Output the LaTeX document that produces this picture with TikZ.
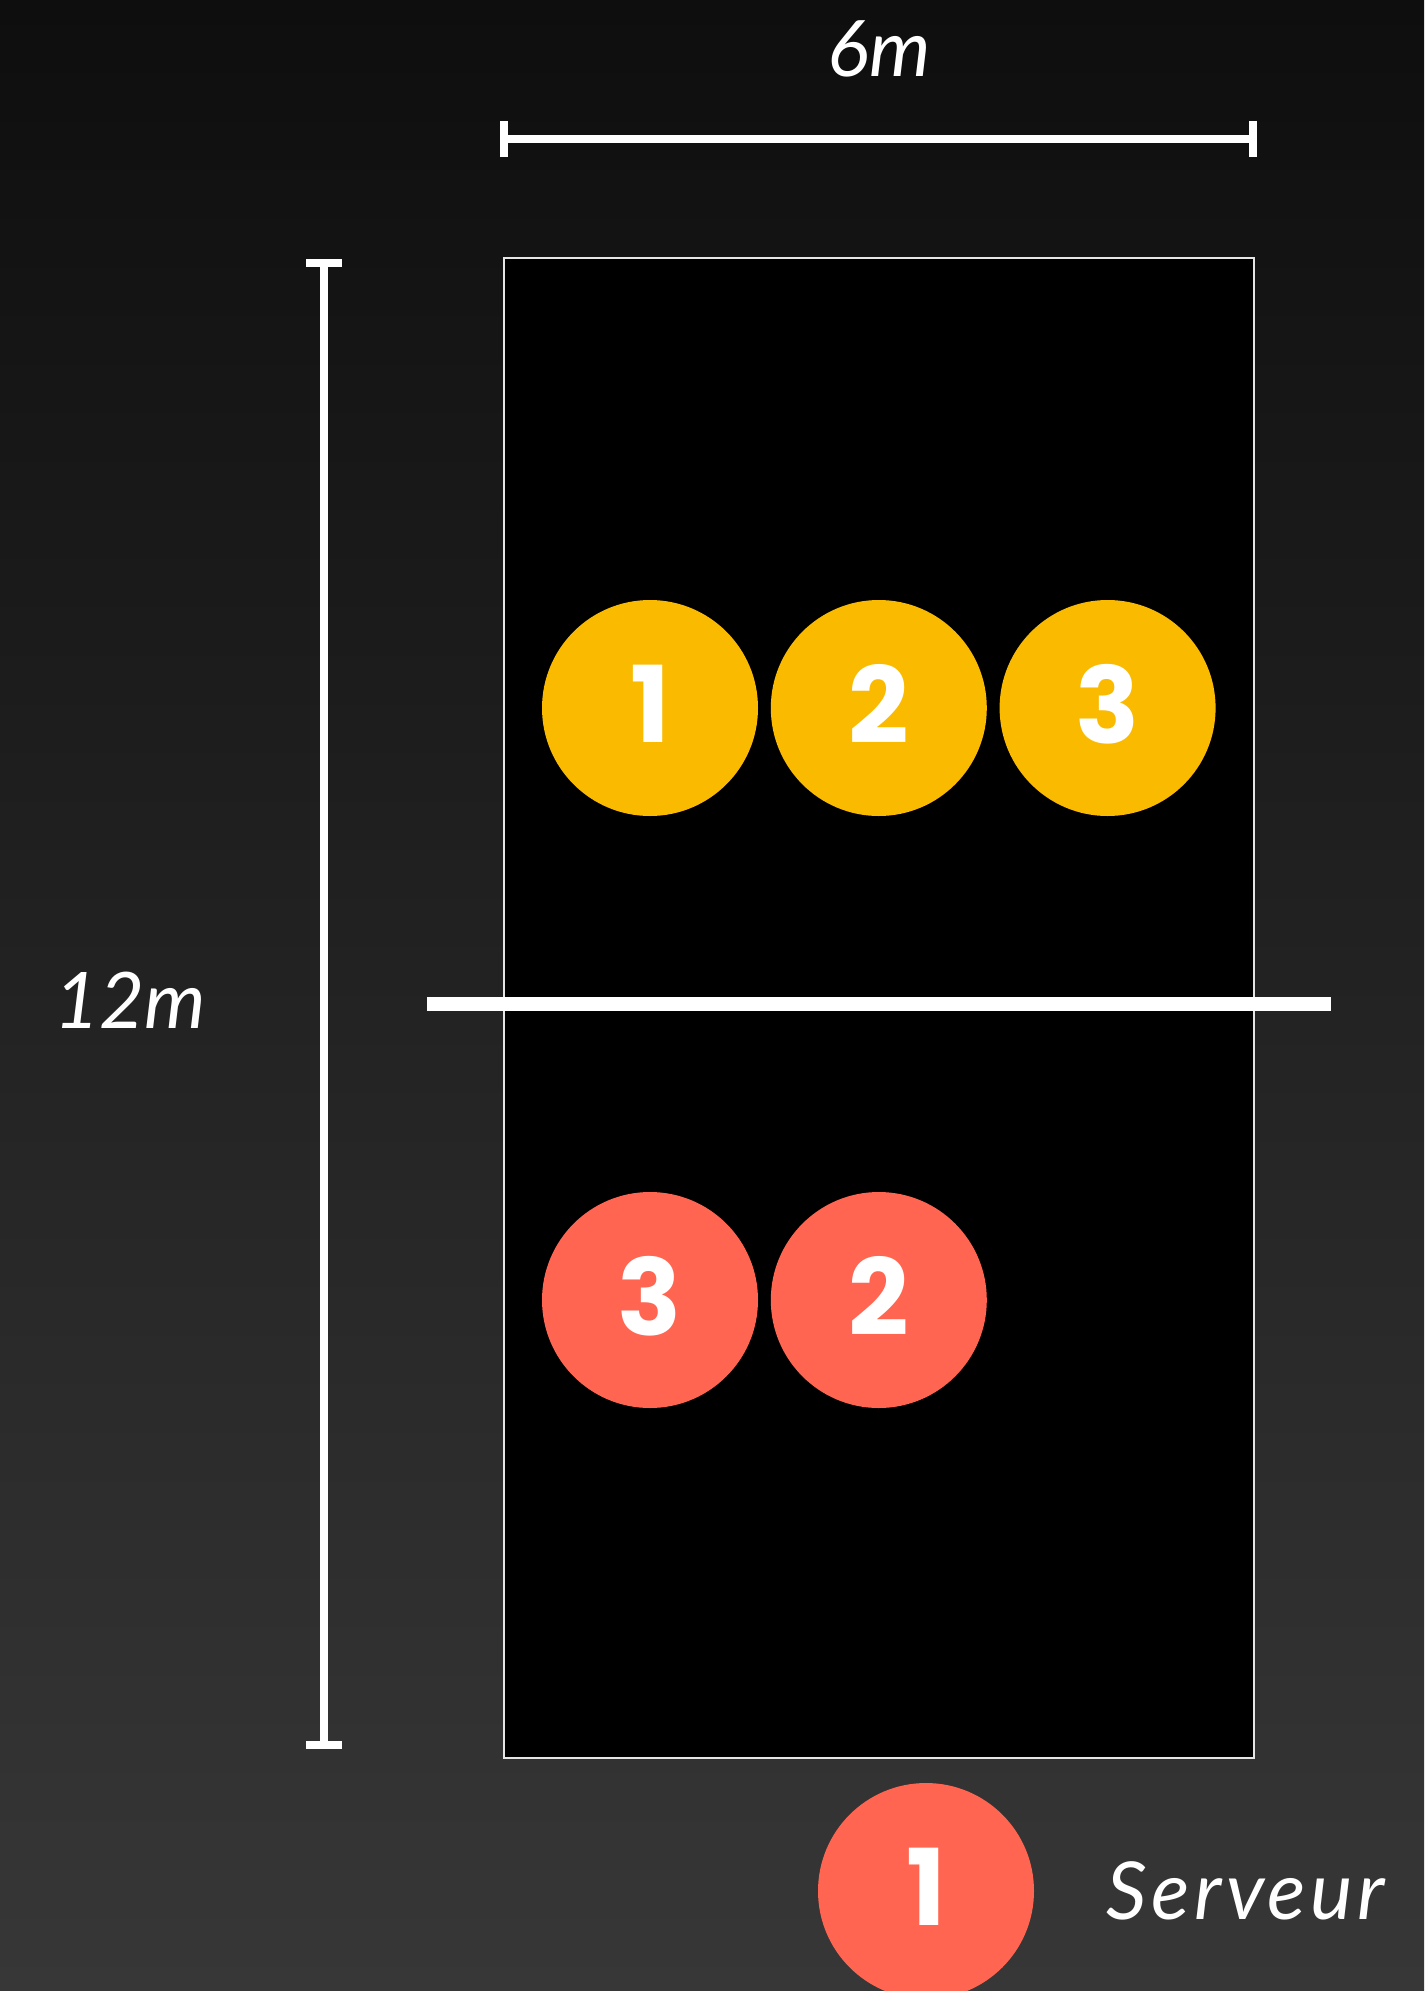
\documentclass[tikz,border=0pt]{standalone}
\usepackage{fontspec}
\usepackage{tikz}
\usetikzlibrary{positioning, arrows.meta}
\setmainfont{Lato}
\newfontfamily\numfont{Poppins}
\newfontfamily\spacedfont{Lato}[LetterSpace=5.5]
\definecolor{bgTop}{HTML}{0E0E0E}
\definecolor{bgBottom}{HTML}{373737}
\definecolor{teamYellow}{HTML}{F9BA00}
\definecolor{teamRed}{HTML}{FF6550}

\begin{document}
\begin{tikzpicture}[
        x=0.5pt, y=-0.5pt,
        font=\fontsize{39}{44}\selectfont\itshape,
        node distance=6pt,
        court/.style={draw=white!90!black, line width=1pt, fill=black,
                      minimum width=375pt, minimum height=750pt, inner sep=0pt},
        player/.style={circle, minimum size=108pt, inner sep=0pt, text=white,
                       text depth=4pt,
                       font=\numfont\bfseries\fontsize{53}{60}\selectfont},
        home/.style={player, fill=teamYellow},
        away/.style={player, fill=teamRed},
        dim/.style={draw=white, line width=4pt, {Bar[width=18pt]}-{Bar[width=18pt]}},
        net/.style={draw=white, line width=7pt},
        label/.style={text=white, inner sep=0pt},
      ]
      \clip (0,0) rectangle (1424,1991);
      \shade[top color=bgTop, bottom color=bgBottom] (0,0) rectangle (1424,1991);

      % court and net
      \node[court] (court) at (879,1008) {};
      \coordinate (netL) at (427,1004);
      \coordinate (netR) at (1331,1004);
      \draw[net] (netL) -- (netR);

      % dimensions
      \coordinate (wL) at (500,139);
      \coordinate (wR) at (1257,139);
      \coordinate (lT) at (324,259);
      \coordinate (lB) at (324,1749);
      \draw[dim] (wL) -- (wR);
      \draw[dim] (lT) -- (lB);
      \node[label, anchor=base] (width) at (879,77) {6m};
      \node[label, anchor=base] (length) at (130,1028) {12m};

      % players
      \node[home] (h1) at (650,708) {1};
      \node[home, right=of h1] (h2) {2};
      \node[home, right=of h2] (h3) {3};
      \node[away] (a3) at (650,1300) {3};
      \node[away, right=of a3] (a2) {2};
      \node[away] (a1) at (926,1891) {1};
      \node[label, right=36pt of a1, font=\spacedfont\fontsize{40}{44}\selectfont\itshape] (server) {Serveur};
    \end{tikzpicture}
\end{document}
